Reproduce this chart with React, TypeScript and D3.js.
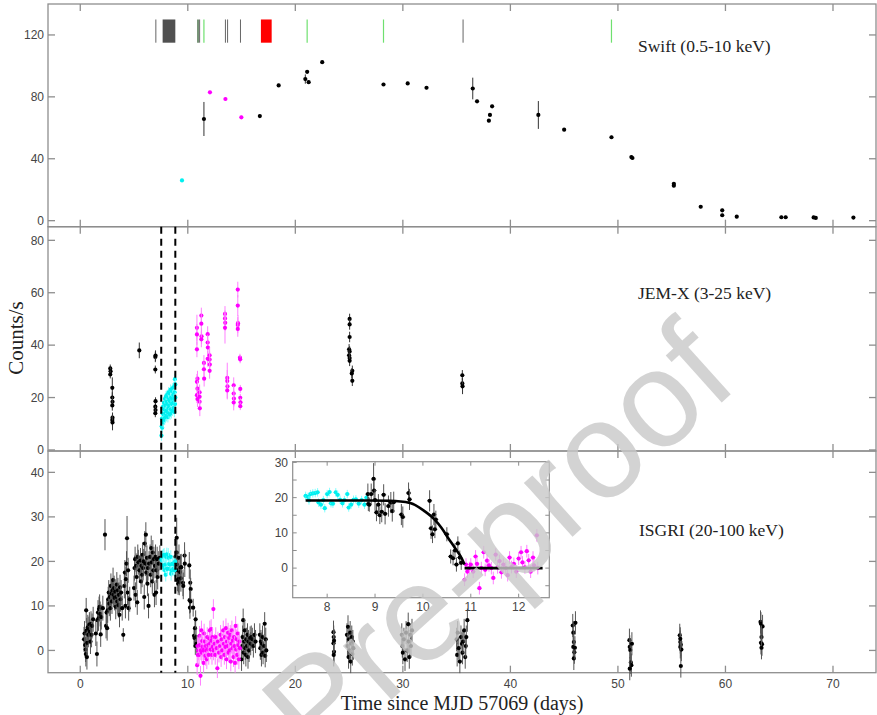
import * as d3 from "d3";

type Pt = [number, number, number?];

// Swift observation windows (days), drawn as marks near the top of the first panel
const obsGray = [7.03, 11.1, 13.5, 13.7, 14.9, 35.6];
const obsDark = [10.95];
const obsGreen = [11.5, 21.1, 28.2, 49.4];
const obsGrayBlock = [7.66, 8.84];
const obsRedBlock = [16.8, 17.8];

// Swift XRT rate (t, counts/s, err)
const swiftBlack: Pt[] = [
  [11.5, 65.7, 11], [16.7, 67.6, 1], [18.45, 87.4, 1], [20.93, 91.5, 3], [21.1, 96.2, 1],
  [21.24, 89.5, 1], [22.5, 102.4, 1], [28.2, 88.0, 1], [30.45, 88.7, 1], [32.2, 85.9, 1],
  [36.5, 85.4, 7], [36.9, 77.1, 1], [38.0, 64.6, 1], [38.1, 68.3, 1], [38.3, 73.9, 1],
  [42.6, 68.3, 9], [45.0, 58.8, 1], [49.4, 53.9, 1], [51.25, 41.1, 1], [51.35, 40.5, 1],
  [55.2, 23.8, 1], [55.2, 22.6, 1], [57.7, 9.0, 1], [59.7, 6.7, 1], [59.7, 3.5, 1],
  [61.05, 2.6, 1], [65.2, 2.2, 1], [65.6, 2.2, 1], [68.2, 2.1, 1], [68.4, 1.8, 1], [71.9, 2.0, 1],
];
const swiftMagenta: Pt[] = [[12.06, 82.9, 1], [13.5, 78.6, 1], [14.98, 66.8, 1]];
const swiftCyan: Pt[] = [[9.46, 26.0, 1]];

// JEM-X rate (t, counts/s, err)
const jemxBlack: Pt[] = [
  [2.79, 31.1, 1.5], [2.82, 30.0, 1.5], [2.79, 28.8, 1.5],
  [2.98, 23.7, 4], [2.98, 20.0, 2], [3.0, 18.4, 2], [2.98, 17.0, 2], [3.0, 12.3, 2], [2.98, 11.4, 2], [3.0, 10.5, 3],
  [5.49, 38.0, 3],
  [6.98, 35.5, 2], [7.0, 36.0, 2], [6.98, 30.7, 1.5], [7.0, 18.6, 1.5], [6.98, 16.5, 1.5], [7.0, 15.2, 1.5], [6.98, 14.0, 1.5],
  [25.05, 50.0, 2], [25.05, 47.9, 2], [25.05, 43.1, 2], [25.0, 38.4, 2], [25.05, 37.6, 2], [25.0, 36.1, 2],
  [25.05, 35.1, 2], [25.05, 34.0, 2], [25.3, 30.2, 2], [25.25, 29.2, 2], [25.3, 26.4, 2],
  [35.53, 28.5, 2], [35.53, 25.4, 2], [35.55, 24.3, 3],
];
const jemxMagenta: Pt[] = [
  [10.85, 46.6, 5], [10.85, 44.1, 4], [10.85, 38.4, 3], [10.9, 27.2, 3], [10.85, 26.0, 3], [10.9, 23.4, 3],
  [10.85, 20.9, 3], [10.9, 19.4, 3], [11.1, 22.0, 3], [11.1, 18.4, 3], [11.12, 15.9, 3], [11.1, 20.3, 3],
  [11.26, 51.3, 3], [11.26, 48.2, 4], [11.28, 43.4, 3], [11.26, 42.2, 3],
  [11.5, 33.2, 3], [11.5, 30.8, 3], [11.52, 27.2, 3],
  [11.85, 44.2, 3], [11.85, 41.0, 3], [11.87, 39.1, 3], [11.85, 34.8, 3],
  [12.03, 36.1, 3], [12.03, 34.5, 3], [12.05, 32.6, 3], [12.03, 30.2, 3],
  [13.46, 51.9, 3], [13.46, 50.2, 3], [13.48, 48.5, 3], [13.46, 46.6, 6],
  [13.67, 27.5, 3], [13.67, 26.3, 7], [13.69, 24.3, 3], [13.67, 22.7, 3],
  [14.27, 24.7, 3], [14.27, 21.5, 3], [14.29, 19.6, 3], [14.27, 18.1, 3],
  [14.65, 61.2, 3], [14.65, 55.1, 4], [14.67, 48.4, 3], [14.65, 47.7, 3], [14.65, 46.2, 3],
  [14.85, 35.2, 1.5], [14.87, 34.6, 1.5],
  [14.88, 23.3, 1.5], [14.88, 19.9, 1.5], [14.9, 18.2, 1.5], [14.88, 16.7, 1.5],
];
const jemxCyan: Pt[] = [
  [7.55, 5.5], [7.57, 9.0], [7.6, 12.0], [7.62, 8.5], [7.65, 14.0], [7.67, 11.0], [7.7, 16.5], [7.72, 10.5],
  [7.75, 13.5], [7.78, 18.0], [7.8, 12.0], [7.82, 15.5], [7.85, 11.5], [7.88, 19.5], [7.9, 14.0], [7.92, 17.0],
  [7.95, 12.5], [7.98, 20.5], [8.0, 15.0], [8.02, 13.0], [8.05, 18.5], [8.08, 21.0], [8.1, 14.5], [8.12, 17.5],
  [8.15, 12.5], [8.18, 20.0], [8.2, 16.0], [8.22, 22.0], [8.25, 14.0], [8.28, 19.0], [8.3, 17.0], [8.33, 21.5],
  [8.35, 13.5], [8.38, 18.5], [8.4, 23.0], [8.43, 15.5], [8.45, 20.0], [8.48, 14.0], [8.5, 22.5], [8.53, 17.5],
  [8.55, 19.5], [8.58, 15.0], [8.6, 23.5], [8.63, 18.0], [8.65, 21.0], [8.68, 16.0], [8.7, 24.0], [8.73, 19.5],
  [8.75, 14.5], [8.78, 22.0], [8.8, 27.0], [8.82, 17.5], [8.84, 20.0], [8.84, 25.0],
];

// ISGRI rate (t, counts/s, optional err)
const isgriBlackEarly: Pt[] = [
  [0.35, 2.5], [0.4, 3.8], [0.45, 1.2], [0.5, 0.2], [0.52, -0.8], [0.55, 9.0], [0.6, 4.5], [0.62, -1.5],
  [0.65, 1.7], [0.7, 5.2], [0.75, 3.5], [0.8, 4.8], [0.85, 5.8], [0.9, 4.2], [0.95, 2.0], [1.0, 6.0],
  [1.05, 3.5], [1.1, 5.5], [1.2, 7.0], [1.45, 3.8], [1.55, -0.8], [1.6, 6.8], [1.65, 8.5], [1.7, 7.2],
  [1.75, 9.3], [1.8, 9.8], [1.85, 8.2], [1.9, 3.6], [1.95, 7.5], [2.1, 9.5], [2.3, 26.0, 3.5], [2.4, 5.5],
  [2.45, 8.5], [2.5, 5.0], [2.55, 9.0], [2.6, 11.5], [2.65, 13.0], [2.7, 10.5], [2.75, 12.0], [2.8, 9.5],
  [2.85, 14.5], [2.9, 12.8], [2.95, 11.0], [3.0, 13.5], [3.05, 15.8], [3.1, 12.5], [3.15, 14.0], [3.2, 11.8],
  [3.25, 13.2], [3.3, 9.8], [3.35, 12.0], [3.4, 14.8], [3.45, 11.0], [3.5, 13.5], [3.55, 10.2], [3.6, 12.5],
  [3.65, 8.0], [3.7, 14.2], [3.75, 11.5], [3.8, 13.0], [3.9, 9.5], [4.0, 3.5, 1.5], [4.1, 14.5], [4.15, 17.5],
  [4.2, 10.0], [4.25, 16.0], [4.3, 19.5], [4.35, 25.2, 5], [4.4, 13.0], [4.45, 18.0], [4.5, 9.5], [4.6, 11.5],
  [5.0, 14.0], [5.05, 18.5], [5.1, 20.5], [5.15, 12.5], [5.2, 19.0], [5.25, 16.5], [5.3, 10.8], [5.35, 21.0],
  [5.4, 19.8], [5.5, 18.0], [5.6, 20.2], [5.65, 15.5], [5.7, 19.0], [5.75, 17.0], [5.8, 21.5], [5.85, 18.5],
  [5.9, 20.0], [5.95, 12.0], [6.0, 24.0], [6.05, 19.5], [6.1, 26.0], [6.15, 17.5], [6.2, 20.8], [6.25, 15.0],
  [6.3, 18.5], [6.35, 10.0], [6.4, 19.5], [6.5, 21.0], [6.55, 17.0], [6.6, 23.0], [6.65, 19.8], [6.7, 15.5],
  [6.75, 22.0], [6.8, 18.0], [6.85, 20.5], [6.9, 12.5], [6.95, 19.0], [7.0, 21.0], [7.05, 13.0], [7.1, 18.0],
  [7.15, 20.5], [7.2, 16.5], [7.3, 19.5], [7.4, 20.8],
];
// these three also make up the inset
const isgriCyan: Pt[] = [
  [7.55, 20.5], [7.6, 20.2], [7.62, 19.2], [7.65, 21.0], [7.7, 21.2], [7.75, 21.3], [7.8, 21.5], [7.82, 18.6],
  [7.87, 18.0], [7.92, 19.3], [7.95, 17.0], [8.0, 21.0], [8.05, 21.6], [8.08, 18.4], [8.12, 18.3], [8.18, 21.5],
  [8.22, 20.8], [8.27, 19.4], [8.32, 18.4], [8.36, 19.3], [8.42, 21.0], [8.45, 17.2], [8.5, 18.0], [8.55, 19.4],
  [8.6, 19.5], [8.66, 18.3], [8.72, 19.3], [8.78, 18.0], [8.82, 20.0],
];
const isgriBlackDecay: Pt[] = [
  [8.85, 21.0, 3], [8.86, 18.2, 2], [8.88, 18.0, 2], [8.92, 21.0, 3], [8.97, 25.3, 4.5], [8.98, 22.0, 3],
  [9.0, 19.3, 3], [9.03, 15.8, 2.5], [9.07, 18.0, 3], [9.1, 15.0, 2.5], [9.14, 16.0, 3], [9.18, 20.8, 3],
  [9.21, 15.4, 3], [9.28, 17.6, 3], [9.33, 18.6, 3], [9.36, 16.2, 3], [9.39, 18.7, 3], [9.55, 15.2, 3],
  [9.58, 14.5, 3], [9.7, 21.3, 3], [9.72, 19.5, 3], [10.14, 19.1, 3], [10.17, 11.3, 3], [10.2, 9.6, 2.5],
  [10.23, 15.2, 3], [10.27, 13.8, 2.5], [10.25, 11.0, 2.5], [10.5, 9.6, 2], [10.58, 3.3, 2], [10.63, 2.8, 2],
  [10.67, 5.0, 2], [10.7, 1.0, 2], [10.73, 7.0, 2], [10.77, 3.0, 2], [10.8, 1.5, 2],
];
const isgriMagenta: Pt[] = [
  [10.87, -3.3], [10.9, 1.0], [10.93, -1.0], [10.97, 0.0], [11.0, 1.0], [11.05, -1.0], [11.1, 3.3], [11.13, 1.2],
  [11.18, -5.7], [11.22, 0.0], [11.27, 4.5], [11.3, -0.5], [11.34, 2.1], [11.38, 0.8], [11.43, 0.0], [11.47, -2.8],
  [11.52, 3.8], [11.56, 0.2], [11.6, 2.0], [11.64, -1.2], [11.68, 1.0], [11.73, 0.0], [11.77, -2.0], [11.81, 3.0],
  [11.85, 0.3], [11.9, 1.2], [11.95, -1.0], [12.0, 2.7], [12.05, 4.5], [12.08, 1.6], [12.13, 0.2], [12.17, 4.8],
  [12.21, 2.2], [12.25, -1.0], [12.3, 3.0], [12.32, 0.8], [12.38, 9.3], [12.4, 0.0],
];
const isgriMagentaLate: Pt[] = [
  [12.5, 1.5], [12.55, -1.0], [12.6, 3.0], [12.7, 0.5], [12.75, -4.0], [12.8, 2.0], [12.9, -0.5], [13.0, 1.0],
  [13.05, 3.5], [13.1, -1.5], [13.15, 2.5], [13.2, 0.0], [13.3, 4.5], [13.35, 1.5], [13.4, -1.0], [13.45, 3.0],
  [13.5, 0.8], [13.55, 5.0], [13.6, -2.0], [13.65, 2.0], [13.7, 1.0], [13.75, 4.0], [13.8, -0.5], [13.85, 2.8],
  [13.9, 0.0], [13.95, 3.5], [14.0, -2.5], [14.05, 1.5], [14.1, 4.5], [14.15, 0.5], [14.2, 2.2], [14.25, -1.5],
  [14.3, 3.0], [14.35, 1.0], [14.4, -2.8], [14.45, 5.5], [14.5, 0.2], [14.55, 2.5], [14.6, -1.0], [14.65, 3.8],
  [14.7, 1.2], [14.75, -2.0], [14.8, 2.0], [14.85, 0.5],
];
const isgriBlackLate: Pt[] = [
  [15.0, -2.0], [15.05, 1.0], [15.1, 3.0], [15.15, 6.8], [15.2, -0.5], [15.25, 2.0], [15.3, 4.5], [15.35, 0.5],
  [15.4, -1.0], [15.45, 2.5], [15.5, 1.0], [15.55, 3.5], [15.6, -1.5], [15.65, 2.0], [15.7, 0.0], [15.8, 2.8],
  [15.85, 1.5], [15.9, 3.0], [16.0, 2.5], [16.1, 1.0], [16.2, 3.5], [16.3, 2.0], [16.7, 3.5], [16.75, 0.5],
  [16.8, 2.0], [16.85, -1.0], [16.9, 1.5], [16.95, 3.0], [17.0, -0.5], [17.1, 1.0], [17.15, 6.0], [17.2, -1.2],
  [17.25, 2.5], [17.3, 0.0],
  [23.55, 4.1], [23.57, 3.0], [23.55, 1.6], [23.6, -0.3], [23.57, -1.0], [23.6, 2.2],
  [24.8, 3.5], [24.85, 1.0], [24.9, 5.3], [24.95, -1.5], [25.0, 2.5], [25.05, 0.0], [25.1, 4.0], [25.15, -2.5],
  [25.2, 1.5], [25.25, 3.0], [25.3, -0.8], [25.35, 2.0], [25.4, 0.5],
  [29.9, 3.5], [29.95, 1.0], [30.0, -0.5], [30.1, 2.5], [30.2, -2.0], [30.3, 4.0], [30.4, 0.0], [30.5, 5.9],
  [30.55, 2.0], [30.6, -1.5], [30.7, 3.5], [30.75, 1.0], [30.85, 4.5],
  [35.0, 2.5], [35.05, -1.0], [35.1, 4.0], [35.2, 0.5], [35.3, -2.5], [35.4, 3.0], [35.5, 1.5], [35.55, -0.5],
  [35.6, 2.0], [35.7, 4.5], [35.8, -1.5], [35.85, 1.0], [35.9, 3.0], [36.0, 6.8],
  [45.8, 5.6], [45.85, 4.0], [45.9, 1.9], [45.85, 0.8], [45.95, -0.4], [45.9, -1.8], [46.0, 0.6], [46.05, 6.2],
  [51.07, 2.3], [51.1, 0.8], [51.15, 0.1], [51.2, -2.7], [51.25, -3.3], [51.1, -4.1], [51.3, 1.5],
  [55.75, 3.4], [55.8, 1.9], [55.85, 1.3], [55.8, 0.8], [55.9, 0.2], [55.85, -3.5], [55.8, 2.6],
  [63.26, 6.4], [63.3, 6.0], [63.45, 5.4], [63.35, 3.0], [63.3, 1.7], [63.4, 1.4], [63.35, 0.6],
];

// model curve shown in the inset
const fitDecay: [number, number][] = [
  [7.55, 19.2], [8.85, 19.2], [9.3, 19.1], [9.73, 18.5], [10.04, 16.1], [10.25, 13.7],
  [10.39, 11.4], [10.53, 8.5], [10.67, 5.7], [10.81, 2.8], [10.87, 1.0],
];
const fitFlat: [number, number][] = [[10.87, 0], [12.5, 0]];

// the INTEGRAL window marked by the dashed lines
const windowEdges = [7.53, 8.84];

const xTicks = [0, 10, 20, 30, 40, 50, 60, 70];
const swiftTicks = [0, 40, 80, 120];
const jemxTicks = [0, 20, 40, 60, 80];
const isgriTicks = [0, 10, 20, 30, 40];
const insetXTicks = [8, 9, 10, 11, 12];
const insetYTicks = [-5, 0, 5, 10, 15, 20, 25, 30];
const insetYLabels = [0, 10, 20, 30];

const FRAME = "#8e8e8e";
const TICK_TXT = "#444";
const SANS = "'Liberation Sans', Arial, sans-serif";
const SERIF = "'Liberation Serif', 'Times New Roman', serif";
const MAGENTA = "#ff00ff";
const CYAN = "#00f0f0";

type Scale = d3.ScaleLinear<number, number>;

function Series({ data, xs, ys, color, errColor, err, r = 2.1, cap = 0 }: {
  data: Pt[]; xs: Scale; ys: Scale; color: string; errColor: string; err: number; r?: number; cap?: number;
}) {
  return (
    <g>
      {data.map((d, i) => {
        const cx = xs(d[0]);
        const cy = ys(d[1]);
        const e = d[2] ?? err;
        return (
          <g key={i}>
            <line x1={cx} x2={cx} y1={ys(d[1] - e)} y2={ys(d[1] + e)} stroke={errColor} strokeWidth={1} />
            {cap > 0 && <line x1={cx - cap} x2={cx + cap} y1={cy} y2={cy} stroke={errColor} strokeWidth={1} />}
            <circle cx={cx} cy={cy} r={r} fill={color} />
          </g>
        );
      })}
    </g>
  );
}

function Panel({ xs, ys, yTicks }: { xs: Scale; ys: Scale; yTicks: number[] }) {
  const [x0, x1] = xs.range();
  const [yb, yt] = ys.range();
  const tl = 7;
  return (
    <g>
      <rect x={x0} y={yt} width={x1 - x0} height={yb - yt} fill="none" stroke={FRAME} strokeWidth={1.3} />
      {xTicks.map((t) => (
        <g key={"x" + t} stroke={FRAME} strokeWidth={1.3}>
          <line x1={xs(t)} x2={xs(t)} y1={yb} y2={yb - tl} />
          <line x1={xs(t)} x2={xs(t)} y1={yt} y2={yt + tl} />
        </g>
      ))}
      {yTicks.map((t) => (
        <g key={"y" + t}>
          <line x1={x0} x2={x0 + tl} y1={ys(t)} y2={ys(t)} stroke={FRAME} strokeWidth={1.3} />
          <line x1={x1} x2={x1 - tl} y1={ys(t)} y2={ys(t)} stroke={FRAME} strokeWidth={1.3} />
          <text x={x0 - 4} y={ys(t)} dy="0.35em" textAnchor="end" fontFamily={SANS} fontSize={12} fill={TICK_TXT}>
            {t}
          </text>
        </g>
      ))}
    </g>
  );
}

export default function App() {
  const x = d3.scaleLinear().domain([-3, 74]).range([48, 876]);
  const ySwift = d3.scaleLinear().domain([-3.9, 140]).range([226.7, 4]);
  const yJemx = d3.scaleLinear().domain([-0.4, 85.2]).range([451, 226.7]);
  const yIsgri = d3.scaleLinear().domain([-5, 44.8]).range([672.7, 451]);
  const xIn = d3.scaleLinear().domain([7.28, 12.64]).range([292.7, 549.3]);
  const yIn = d3.scaleLinear().domain([-8.4, 30.2]).range([597.7, 461.7]);

  const obsTop = ySwift(130);
  const obsBot = ySwift(115);

  const fitLine = d3
    .line<[number, number]>()
    .x((d) => xIn(d[0]))
    .y((d) => yIn(d[1]))
    .curve(d3.curveMonotoneX);

  return (
    <svg width={877} height={715} style={{ position: "absolute", left: 0, top: 0, background: "#fff" }}>
      <Panel xs={x} ys={ySwift} yTicks={swiftTicks} />
      <Panel xs={x} ys={yJemx} yTicks={jemxTicks} />
      <Panel xs={x} ys={yIsgri} yTicks={isgriTicks} />

      {/* observation marks */}
      <rect x={x(obsGrayBlock[0])} y={obsTop} width={x(obsGrayBlock[1]) - x(obsGrayBlock[0])} height={obsBot - obsTop} fill="#505050" />
      <rect x={x(obsRedBlock[0])} y={obsTop} width={x(obsRedBlock[1]) - x(obsRedBlock[0])} height={obsBot - obsTop} fill="#ff0000" />
      {obsGray.map((t) => (
        <line key={"g" + t} x1={x(t)} x2={x(t)} y1={obsTop} y2={obsBot} stroke="#666" strokeWidth={1} />
      ))}
      {obsDark.map((t) => (
        <line key={"d" + t} x1={x(t)} x2={x(t)} y1={obsTop} y2={obsBot} stroke="#1d4d1d" strokeWidth={1.2} />
      ))}
      {obsGreen.map((t) => (
        <line key={"n" + t} x1={x(t)} x2={x(t)} y1={obsTop} y2={obsBot} stroke="#6fe06f" strokeWidth={1.2} />
      ))}

      {/* Swift */}
      <Series data={swiftBlack} xs={x} ys={ySwift} color="#000" errColor="#333" err={1} />
      <Series data={swiftMagenta} xs={x} ys={ySwift} color={MAGENTA} errColor={MAGENTA} err={1} />
      <Series data={swiftCyan} xs={x} ys={ySwift} color={CYAN} errColor={CYAN} err={1} />

      {/* JEM-X */}
      <Series data={jemxBlack} xs={x} ys={yJemx} color="#000" errColor="#333" err={2} />
      <Series data={jemxMagenta} xs={x} ys={yJemx} color={MAGENTA} errColor="#ff80ff" err={3} />
      <Series data={jemxCyan} xs={x} ys={yJemx} color={CYAN} errColor="#80ffff" err={2} />

      {/* ISGRI */}
      <Series data={isgriBlackEarly} xs={x} ys={yIsgri} color="#000" errColor="#555" err={2.8} />
      <Series data={isgriBlackDecay} xs={x} ys={yIsgri} color="#000" errColor="#555" err={2.8} />
      <Series data={isgriBlackLate} xs={x} ys={yIsgri} color="#000" errColor="#555" err={2.6} />
      <Series data={isgriMagenta} xs={x} ys={yIsgri} color={MAGENTA} errColor="#ff80ff" err={2.2} />
      <Series data={isgriMagentaLate} xs={x} ys={yIsgri} color={MAGENTA} errColor="#ff80ff" err={2.2} />
      <Series data={isgriCyan} xs={x} ys={yIsgri} color={CYAN} errColor="#80ffff" err={1.5} />

      {/* dashed window */}
      {windowEdges.map((t) => (
        <line key={"w" + t} x1={x(t)} x2={x(t)} y1={yJemx.range()[1]} y2={yIsgri.range()[0]} stroke="#000" strokeWidth={2} strokeDasharray="7,5" />
      ))}

      {/* panel labels */}
      <text x={638} y={52} fontFamily={SERIF} fontSize={17.5} fill="#222">Swift (0.5-10 keV)</text>
      <text x={638} y={299} fontFamily={SERIF} fontSize={17.5} fill="#222">JEM-X (3-25 keV)</text>
      <text x={639} y={536} fontFamily={SERIF} fontSize={17.5} fill="#222">ISGRI (20-100 keV)</text>

      {/* x axis */}
      {xTicks.map((t) => (
        <text key={"xl" + t} x={x(t)} y={688} textAnchor="middle" fontFamily={SANS} fontSize={12} fill={TICK_TXT}>
          {t}
        </text>
      ))}
      <text x={462} y={710} textAnchor="middle" fontFamily={SERIF} fontSize={20} fill="#222">
        Time since MJD 57069 (days)
      </text>
      <text transform="translate(23,338) rotate(-90)" textAnchor="middle" fontFamily={SERIF} fontSize={21} fill="#222">
        Counts/s
      </text>

      {/* inset */}
      <g>
        <rect x={292.7} y={461.7} width={549.3 - 292.7} height={597.7 - 461.7} fill="#fff" stroke={FRAME} strokeWidth={1.2} />
        {insetXTicks.map((t) => (
          <g key={"ix" + t}>
            <line x1={xIn(t)} x2={xIn(t)} y1={597.7} y2={593.7} stroke={FRAME} />
            <line x1={xIn(t)} x2={xIn(t)} y1={461.7} y2={465.7} stroke={FRAME} />
            <text x={xIn(t)} y={611} textAnchor="middle" fontFamily={SANS} fontSize={12} fill={TICK_TXT}>{t}</text>
          </g>
        ))}
        {insetYTicks.map((t) => (
          <g key={"iy" + t}>
            <line x1={292.7} x2={296.7} y1={yIn(t)} y2={yIn(t)} stroke={FRAME} />
            <line x1={549.3} x2={545.3} y1={yIn(t)} y2={yIn(t)} stroke={FRAME} />
          </g>
        ))}
        {insetYLabels.map((t) => (
          <text key={"il" + t} x={288} y={yIn(t)} dy="0.35em" textAnchor="end" fontFamily={SANS} fontSize={12} fill={TICK_TXT}>{t}</text>
        ))}
        <Series data={isgriCyan} xs={xIn} ys={yIn} color={CYAN} errColor="#80ffff" err={1.2} cap={2.5} />
        <Series data={isgriBlackDecay} xs={xIn} ys={yIn} color="#000" errColor="#555" err={2.8} cap={2.5} />
        <Series data={isgriMagenta} xs={xIn} ys={yIn} color={MAGENTA} errColor="#ff80ff" err={1.8} cap={2.5} />
        <path d={fitLine(fitDecay) ?? ""} fill="none" stroke="#000" strokeWidth={2.6} />
        <path d={fitLine(fitFlat) ?? ""} fill="none" stroke="#000" strokeWidth={2.6} />
      </g>

      {/* journal watermark */}
      <text
        transform="translate(741,385) rotate(-42)"
        textAnchor="end"
        fontFamily={SANS}
        fontSize={137}
        fill="#c8c8c8"
        fillOpacity={0.8}
      >
        Pre-proof
      </text>
    </svg>
  );
}
